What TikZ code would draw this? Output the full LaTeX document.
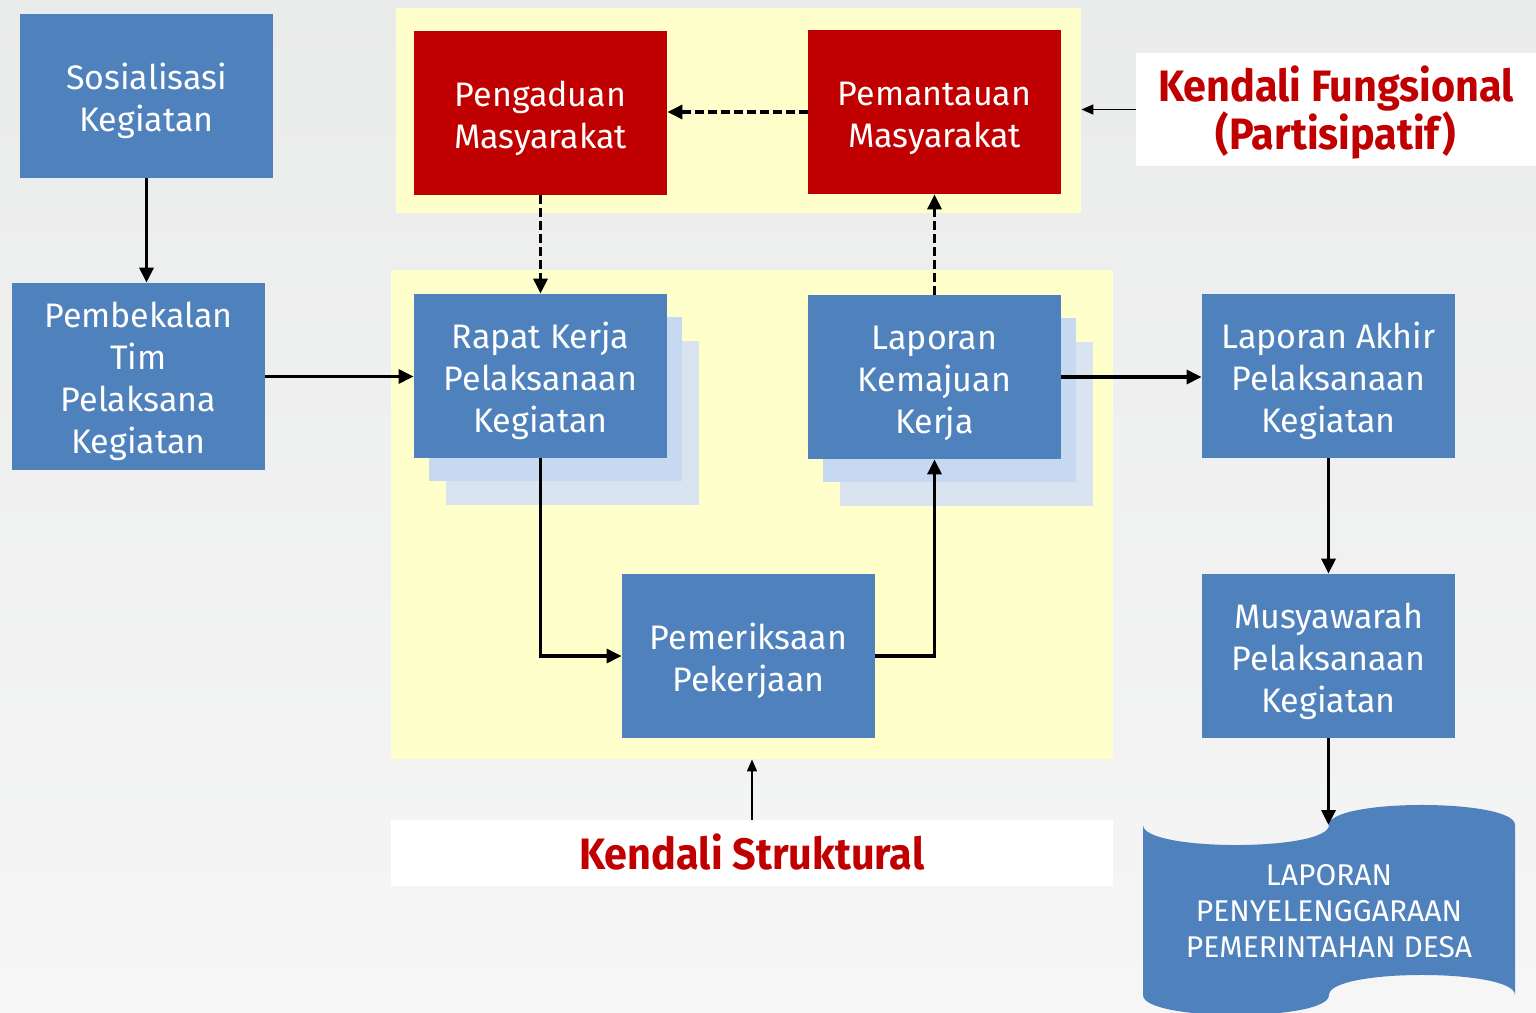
\documentclass[tikz,border=0pt]{standalone}
\usepackage{fontspec}
\setmainfont{Fira Sans}
\newfontfamily\titlefont[FakeStretch=0.94]{Fira Sans}
\usetikzlibrary{arrows.meta}
\definecolor{boxblue}{HTML}{4F81BD}
\definecolor{boxred}{HTML}{C00000}
\definecolor{zoneyel}{HTML}{FFFFCC}
\definecolor{shA}{HTML}{C6D9F1}
\definecolor{shB}{HTML}{DAE4F1}
\definecolor{bgtop}{HTML}{EAEBEB}
\definecolor{bgbot}{HTML}{F6F6F6}
\newcommand\tst{\rule{0pt}{20pt}}
\newcommand\bst{\rule[-6pt]{0pt}{0pt}}
\newcommand\ttst{\rule{0pt}{24pt}}
\newcommand\tbst{\rule[-8pt]{0pt}{0pt}}
\begin{document}
\begin{tikzpicture}[x=0.5pt,y=-0.5pt,
  box/.style={fill=boxblue, text=white, minimum width=126.5pt, minimum height=82pt, inner sep=0pt, align=center, font=\fontsize{17}{21}\selectfont},
  redbox/.style={box, fill=boxred},
  shadowA/.style={fill=shA, minimum width=126.5pt, minimum height=82pt, inner sep=0pt},
  shadowB/.style={fill=shB, minimum width=126.5pt, minimum height=82pt, inner sep=0pt},
  zone/.style={fill=zoneyel, inner sep=0pt},
  ctrl/.style={fill=white, text=boxred, font=\titlefont\bfseries\fontsize{22}{24}\selectfont, align=center, inner sep=0pt},
  flow/.style={line width=1.6pt, -{Triangle[length=7.5pt,width=7pt]}},
  dflow/.style={flow, dash pattern=on 4.5pt off 2pt},
  thinflow/.style={line width=0.8pt, -{Triangle[length=6pt,width=5pt]}}
]
\clip (0,0) rectangle (1536,1012);
\shade[top color=bgtop, bottom color=bgbot] (0,0) rectangle (1536,1012);

% zones
\node[zone, minimum width=342.5pt, minimum height=102.5pt] (ztop) at (738.5,110.5) {};
\node[zone, minimum width=361pt, minimum height=244.5pt] (zmid) at (752,514.5) {};

% shadows
\node[shadowB] (rsB) at (572.5,423) {};
\node[shadowA] (rsA) at (555.5,399) {};
\node[shadowB] (lsB) at (966.5,424) {};
\node[shadowA] (lsA) at (949.5,400) {};

% boxes
\node[box] (soc) at (146.5,96) {\tst Sosialisasi\\Kegiatan\bst};
\node[box, minimum height=93.5pt] (pemb) at (138.5,376.5) {\tst Pembekalan\\Tim\\Pelaksana\\Kegiatan\bst};
\node[redbox] (peng) at (540.5,113) {\tst Pengaduan\\Masyarakat\bst};
\node[redbox] (pemt) at (934.5,112) {\tst Pemantauan\\Masyarakat\bst};
\node[box] (rapat) at (540.5,376) {\tst Rapat Kerja\\Pelaksanaan\\Kegiatan\bst};
\node[box] (lkk) at (934.5,377) {\tst Laporan\\Kemajuan\\Kerja\bst};
\node[box] (perik) at (748.5,656) {\tst Pemeriksaan\\Pekerjaan\bst};
\node[box] (lakh) at (1328.5,376) {\tst Laporan Akhir\\Pelaksanaan\\Kegiatan\bst};
\node[box] (musy) at (1328.5,656) {\tst Musyawarah\\Pelaksanaan\\Kegiatan\bst};

% tape
\fill[boxblue] (1143,825) .. controls (1143,851.7) and (1329,851.7) .. (1329,825)
  .. controls (1329,798.3) and (1515,798.3) .. (1515,825)
  -- (1515,995) .. controls (1515,968.3) and (1329,968.3) .. (1329,995)
  .. controls (1329,1021.7) and (1143,1021.7) .. (1143,995) -- cycle;
\coordinate (tapetop) at (1328.5,825);
\node[text=white, align=center, font=\fontsize{15}{18}\selectfont] (tape) at (1329,911) {LAPORAN\\PENYELENGGARAAN\\PEMERINTAHAN DESA};

% control labels
\node[ctrl, minimum width=200pt, minimum height=56.5pt] (kf) at (1336,109.5) {\ttst Kendali Fungsional\\(Partisipatif)\tbst};
\node[ctrl, minimum width=361pt, minimum height=33pt] (ks) at (752,853) {\ttst Kendali Struktural\tbst};

% connectors
\draw[flow] (soc.south) -- (soc.south |- pemb.north);
\draw[flow] (pemb.east) -- (pemb.east -| rapat.west);
\draw[dflow] (peng.south) -- (rapat.north);
\draw[dflow] (pemt.west) -- (pemt.west -| peng.east);
\draw[dflow] (lkk.north) -- (pemt.south);
\draw[flow] (rapat.south) |- (perik.west);
\draw[flow] (perik.east) -| (lkk.south);
\draw[flow] (lkk.east) -- (lkk.east -| lakh.west);
\draw[flow] (lakh.south) -- (musy.north);
\draw[flow] (musy.south) -- (tapetop);
\draw[thinflow] (kf.west) -- (kf.west -| ztop.east);
\draw[thinflow] (ks.north) -- (ks.north |- zmid.south);
\end{tikzpicture}
\end{document}
